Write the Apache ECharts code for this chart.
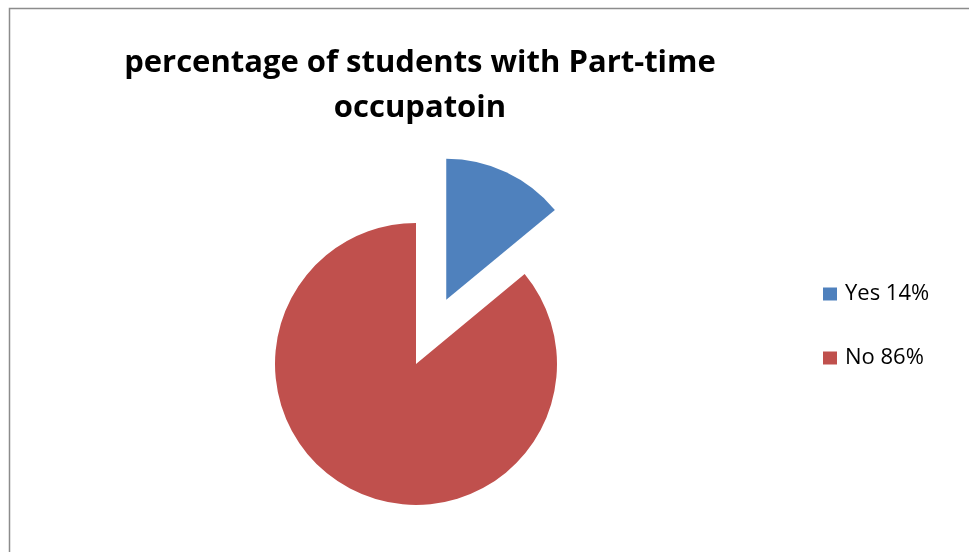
<!DOCTYPE html>
<html><head><meta charset="utf-8">
<script src="https://cdn.jsdelivr.net/npm/echarts@6/dist/echarts.min.js"></script>
<style>html,body{margin:0;padding:0;background:#fff}#c{width:969px;height:552px}</style>
</head><body><div id="c"></div>
<script>
const categories = ['Yes', 'No'];
const values = [14, 86];
const colors = ['#4F81BD', '#C0504D'];
const titleText = 'percentage of students with Part-time\noccupatoin';

const chart = echarts.init(document.getElementById('c'));
chart.setOption({
  animation: false,
  title: {
    text: titleText, left: 415, top: 36, textAlign: 'center',
    textStyle: { fontFamily: 'Open Sans', fontWeight: 'bold', fontSize: 31, lineHeight: 45, color: '#000' }
  },
  graphic: [{ type: 'rect', shape: { x: 9.5, y: 8.5, width: 1000, height: 1000 }, style: { fill: 'none', stroke: '#8c8c8c', lineWidth: 1.5 }, silent: true }],
  legend: {
    orient: 'vertical', left: 823, top: 283, padding: 0, itemWidth: 14, itemHeight: 13, itemGap: 42,
    icon: 'rect', selectedMode: false,
    formatter: function (n) { return n + ' ' + values[categories.indexOf(n)] + '%'; },
    textStyle: { fontFamily: 'Open Sans', fontSize: 22, lineHeight: 22, color: '#000', padding: [0, 0, 0, 3] }
  },
  series: [{
    type: 'pie', center: [416, 364], radius: 141, startAngle: 90, clockwise: true,
    selectedMode: 'multiple', selectedOffset: 71, label: { show: false }, labelLine: { show: false },
    emphasis: { disabled: true }, silent: true,
    data: categories.map((c, i) => ({ name: c, value: values[i], selected: i === 0, itemStyle: { color: colors[i] } }))
  }]
});
</script></body></html>
